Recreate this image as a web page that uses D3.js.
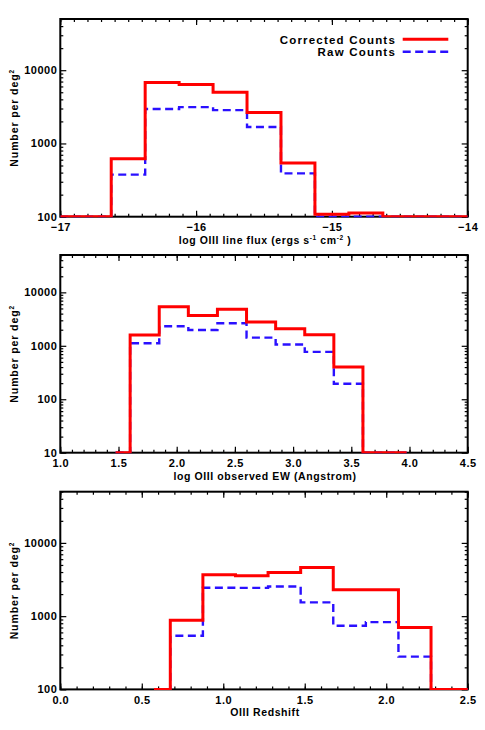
<!DOCTYPE html>
<html><head><meta charset="utf-8">
<script src="https://cdn.jsdelivr.net/npm/d3@7"></script>
<style>
body{margin:0;background:#fff}
svg{display:block}
text{font-family:"Liberation Sans",Arial,sans-serif;font-weight:bold;fill:#000}
</style>
</head><body><svg id="c" width="485" height="730"></svg>
<script>
// ---------- data ----------
const fluxBins      = [-17.0,-16.75,-16.5,-16.25,-16.0,-15.75,-15.5,-15.25,-15.0,-14.75,-14.5,-14.25,-14.0];
const fluxCorrected = [0,0,620,6800,6400,5000,2650,540,108,112,0,0,0];
const fluxRaw       = [0,0,375,2950,3130,2850,1680,390,0,0,0,0,0];

const ewBins        = [1.475,1.725,1.975,2.225,2.475,2.725,2.975,3.225,3.475,3.725,3.975];
const ewCorrected   = [0,1600,5400,3680,4850,2800,2090,1610,400,0,0];
const ewRaw         = [0,1120,2320,1980,2640,1420,1060,770,195,0,0];

const zBins         = [0.575,0.775,0.975,1.175,1.375,1.575,1.775,1.975,2.175,2.375,2.575];
const zCorrected    = [0,880,3680,3570,3950,4620,2300,2300,700,0,0];
const zRaw          = [0,540,2440,2430,2540,1540,740,830,280,0,0];

const fluxTicks      = [-17,-16,-15,-14];
const fluxTickLabels = ["\u221217","\u221216","\u221215","\u221214"];
const ewTicks        = [1.0,1.5,2.0,2.5,3.0,3.5,4.0,4.5];
const ewTickLabels   = ["1.0","1.5","2.0","2.5","3.0","3.5","4.0","4.5"];
const zTicks         = [0.0,0.5,1.0,1.5,2.0,2.5];
const zTickLabels    = ["0.0","0.5","1.0","1.5","2.0","2.5"];
const yTicksA        = [100,1000,10000];
const yTicksB        = [10,100,1000,10000];

const seriesNames = ["Corrected Counts","Raw Counts"];
const RED = "#ff0000", BLUE = "#2a10ff";

// ---------- layout ----------
const svg = d3.select("#c");
const L = 60.3, R = 467.7, H = 197.7;

const panels = [
  {top:19,    xd:[-17,-14], yd:[100,5e4], bins:fluxBins, red:fluxCorrected, blue:fluxRaw,
   xt:fluxTicks, xl:fluxTickLabels, yt:yTicksA,
   title:[{t:"log OIII line flux (ergs s"},{t:"-1",sup:true},{t:" cm"},{t:"-2",sup:true},{t:" )"}], legend:true},
  {top:255,   xd:[1.0,4.5], yd:[10,5e4],  bins:ewBins, red:ewCorrected, blue:ewRaw,
   xt:ewTicks, xl:ewTickLabels, yt:yTicksB,
   title:[{t:"log OIII observed EW (Angstrom)"}]},
  {top:491.7, xd:[0,2.5],   yd:[100,5e4], bins:zBins, red:zCorrected, blue:zRaw,
   xt:zTicks, xl:zTickLabels, yt:yTicksA,
   title:[{t:"OIII  Redshift"}]}
];

function styleAxis(g){
  g.select(".domain").remove();
  g.selectAll(".tick line").attr("stroke","#000").attr("stroke-width",1.2);
  g.selectAll("text").attr("font-family",null).attr("font-size",null)
   .style("font-size","11px").style("letter-spacing","0.5px").attr("fill","#000");
  g.attr("font-family",null).attr("font-size",null);
}

panels.forEach((p,pi)=>{
  const bottom = p.top + H;
  const x = d3.scaleLinear().domain(p.xd).range([L,R]);
  const y = d3.scaleLog().domain(p.yd).range([bottom,p.top]);
  const g = svg.append("g");

  // minor ticks
  const xMinor = d3.range(Math.round((p.xd[1]-p.xd[0])/0.1)+1).map(i=>p.xd[0]+i*0.1);
  const yMinor = [];
  const k0 = Math.floor(Math.log10(p.yd[0])), k1 = Math.ceil(Math.log10(p.yd[1]));
  for(let k=k0;k<=k1;k++) for(let m=2;m<=9;m++){ const v=m*Math.pow(10,k); if(v>p.yd[0] && v<=p.yd[1]) yMinor.push(v); }

  g.append("g").attr("transform",`translate(0,${bottom})`).call(d3.axisBottom(x).tickValues(xMinor).tickSize(-3).tickFormat("")).call(styleAxis);
  g.append("g").attr("transform",`translate(0,${p.top})`).call(d3.axisTop(x).tickValues(xMinor).tickSize(-3).tickFormat("")).call(styleAxis);
  g.append("g").attr("transform",`translate(${L},0)`).call(d3.axisLeft(y).tickValues(yMinor).tickSize(-3).tickFormat("")).call(styleAxis);
  g.append("g").attr("transform",`translate(${R},0)`).call(d3.axisRight(y).tickValues(yMinor).tickSize(-3).tickFormat("")).call(styleAxis);

  // major ticks
  g.append("g").attr("transform",`translate(0,${bottom})`)
    .call(d3.axisBottom(x).tickValues(p.xt).tickSize(-6).tickPadding(7).tickFormat((d,i)=>p.xl[i])).call(styleAxis);
  g.append("g").attr("transform",`translate(0,${p.top})`)
    .call(d3.axisTop(x).tickValues(p.xt).tickSize(-6).tickFormat("")).call(styleAxis);
  g.append("g").attr("transform",`translate(${L},0)`)
    .call(d3.axisLeft(y).tickValues(p.yt).tickSize(-6).tickPadding(3).tickFormat(d3.format("d"))).call(styleAxis);
  g.append("g").attr("transform",`translate(${R},0)`)
    .call(d3.axisRight(y).tickValues(p.yt).tickSize(-6).tickFormat("")).call(styleAxis);

  // frame
  g.append("rect").attr("x",L).attr("y",p.top).attr("width",R-L).attr("height",H)
    .attr("fill","none").attr("stroke","#000").attr("stroke-width",2);

  // clip
  const cid = "clip"+pi;
  svg.append("clipPath").attr("id",cid).append("rect")
    .attr("x",L).attr("y",p.top).attr("width",R-L).attr("height",H+0.5);

  const line = d3.line()
    .x((d,i)=>x(p.bins[i]))
    .y(d=>y(Math.max(d,p.yd[0])))
    .curve(d3.curveStep);

  const lg = svg.append("g").attr("clip-path",`url(#${cid})`);
  lg.append("path").datum(p.blue).attr("d",line).attr("fill","none")
    .attr("stroke",BLUE).attr("stroke-width",2.4).attr("stroke-dasharray","8,4.5");
  lg.append("path").datum(p.red).attr("d",line).attr("fill","none")
    .attr("stroke",RED).attr("stroke-width",3);

  // x title
  const tt = svg.append("text").attr("x",(L+R)/2+1).attr("y",bottom+27)
    .attr("text-anchor","middle").style("font-size","10.5px").style("letter-spacing","0.6px");
  let shift = 0;
  p.title.forEach(s=>{
    if(s.sup){
      tt.append("tspan").attr("dy",-3.5 - shift).style("font-size","6.5px").text(s.t);
      shift = -3.5;
    } else {
      tt.append("tspan").attr("dy",-shift).text(s.t);
      shift = 0;
    }
  });

  // y title
  const yt = svg.append("text")
    .attr("transform",`translate(17.5,${p.top+H/2}) rotate(-90)`)
    .attr("text-anchor","middle").style("font-size","10.5px").style("letter-spacing","0.9px");
  yt.append("tspan").text("Number per deg");
  yt.append("tspan").attr("dy",-4).style("font-size","6.5px").text("2");

  // legend
  if(p.legend){
    const leg = [
      {name:seriesNames[0], color:RED, dash:null, w:3, ty:43.5, ly:39.3},
      {name:seriesNames[1], color:BLUE, dash:"8,4.5", w:2.4, ty:55.7, ly:51.8}
    ];
    leg.forEach(e=>{
      svg.append("text").attr("x",396).attr("y",e.ty).attr("text-anchor","end")
        .style("font-size","11.5px").style("letter-spacing","1.2px").text(e.name);
      svg.append("line").attr("x1",402.7).attr("x2",448.3).attr("y1",e.ly).attr("y2",e.ly)
        .attr("stroke",e.color).attr("stroke-width",e.w).attr("stroke-dasharray",e.dash);
    });
  }
});
</script>
</body></html>
